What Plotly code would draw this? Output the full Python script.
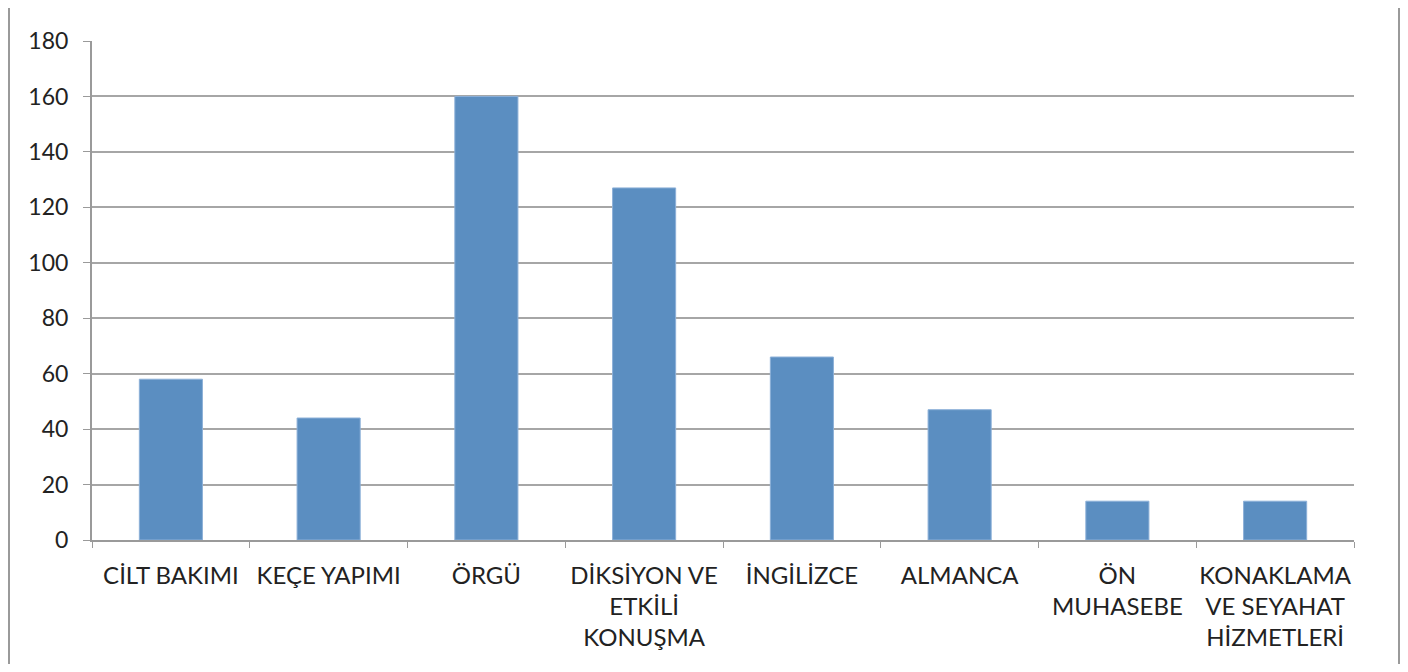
import plotly.graph_objects as go

categories = ["CİLT BAKIMI", "KEÇE YAPIMI", "ÖRGÜ", "DİKSİYON VE<br>ETKİLİ<br>KONUŞMA",
              "İNGİLİZCE", "ALMANCA", "ÖN<br>MUHASEBE", "KONAKLAMA<br>VE SEYAHAT<br>HİZMETLERİ"]
values = [58, 44, 160, 127, 66, 47, 14, 14]
y_ticks = [0, 20, 40, 60, 80, 100, 120, 140, 160, 180]

OFF = 8  # default page margin
W, H = 1408 - 2 * OFF, 672 - 2 * OFF
L, R, T = 92 - OFF, 54 - OFF, 41 - OFF
ph = 540 - 41
B = H - T - ph
pw = W - L - R

fig = go.Figure(go.Bar(
    x=categories, y=values,
    marker=dict(color="#5b8ec1", line=dict(color="#8cb0d8", width=1)),
))

fig.update_layout(
    width=W, height=H,
    margin=dict(l=L, r=R, t=T, b=B, autoexpand=False),
    paper_bgcolor="white", plot_bgcolor="white",
    bargap=0.6, showlegend=False,
    font=dict(family="Lato, Open Sans, sans-serif", size=24, color="#222"),
    xaxis=dict(
        type="category", showline=True, linecolor="#9a9a9a", linewidth=2,
        ticks="outside", tickson="boundaries", ticklen=6, tickcolor="#9a9a9a", tickwidth=1,
        showgrid=False, tickfont=dict(size=24, color="#222"), ticklabelstandoff=13,
        tickangle=0, automargin=False,
    ),
    yaxis=dict(
        range=[0, 180], tickvals=y_ticks, showline=True, linecolor="#9a9a9a", linewidth=2,
        ticks="outside", ticklen=7, tickcolor="#9a9a9a", tickwidth=1,
        showgrid=True, gridcolor="#a6a6a6", gridwidth=2, automargin=False,
        tickfont=dict(size=23, color="#222"), zeroline=False, ticklabelstandoff=10,
    ),
    shapes=[
        dict(type="line", xref="paper", yref="paper",
             x0=(9 - 92) / pw, x1=(9 - 92) / pw, y0=(540 - 3) / ph, y1=-(H + OFF - 540) / ph,
             line=dict(color="#9a9a9a", width=2)),
        dict(type="line", xref="paper", yref="paper",
             x0=(1399 - 92) / pw, x1=(1399 - 92) / pw, y0=(540 - 3) / ph, y1=-(667 - 540) / ph,
             line=dict(color="#9a9a9a", width=2)),
    ],
)

fig.write_html("out.html")
